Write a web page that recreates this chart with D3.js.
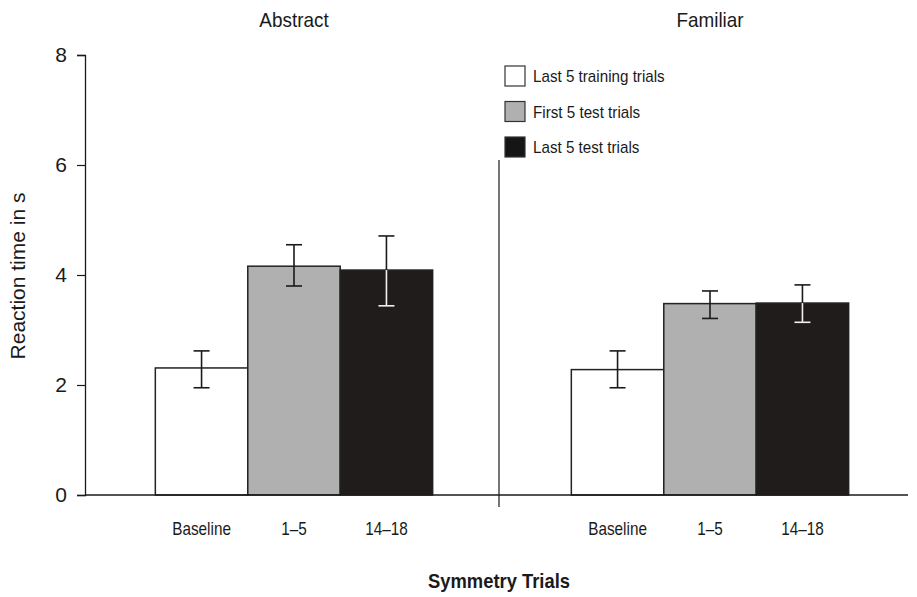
<!DOCTYPE html>
<html>
<head>
<meta charset="utf-8">
<script src="https://cdn.jsdelivr.net/npm/d3@7"></script>
<style>
  body { margin: 0; background: #fff; }
  text { font-family: "Liberation Sans", Arial, sans-serif; fill: #1a1a1a; }
</style>
</head>
<body>
<svg id="chart" width="917" height="597"></svg>
<script>
// data
var panels = ['Abstract', 'Familiar'];
var conditions = ['Baseline', '1–5', '14–18'];
var legendLabels = ['Last 5 training trials', 'First 5 test trials', 'Last 5 test trials'];
var means = [[2.31, 4.16, 4.09], [2.28, 3.48, 3.49]];
var errLow = [[1.95, 3.80, 3.44], [1.95, 3.21, 3.14]];
var errHigh = [[2.62, 4.55, 4.71], [2.62, 3.71, 3.82]];
var yTicks = [0, 2, 4, 6, 8];

var fills = ['#ffffff', '#b0b0b0', '#201c1c'];
var errColors = ['#1a1a1a', '#1a1a1a', '#f0f0f0'];

var svg = d3.select('#chart');

// narrow-looking text: squeeze a normal sans horizontally
function label(parent, x, y, str, size, sx, anchor) {
	return parent.append('text')
		.attr('transform', 'translate(' + x + ',' + y + ') scale(' + sx + ',1)')
		.attr('text-anchor', anchor || 'middle')
		.style('font-size', size + 'px')
		.text(str);
}

var y = d3.scaleLinear().domain([0, 8]).range([495, 55]);
var x0 = d3.scaleBand().domain(panels).range([86, 918]);
var x1 = d3.scaleBand().domain(conditions).range([0, x0.bandwidth()]).paddingInner(0).paddingOuter(0.75);

// y axis
var yAxis = svg.append('g').attr('transform', 'translate(85,0)')
	.call(d3.axisLeft(y).tickValues(yTicks).tickSize(8).tickPadding(10));
yAxis.select('.domain').attr('stroke', '#1a1a1a').attr('stroke-width', 1.3);
yAxis.selectAll('.tick line').attr('stroke', '#1a1a1a').attr('stroke-width', 1.2);
yAxis.selectAll('.tick text')
	.style('font-family', '"Liberation Sans", Arial, sans-serif')
	.style('font-size', '21px').attr('fill', '#1a1a1a');

svg.append('text')
	.attr('transform', 'translate(25,' + (y(4) + 1) + ') rotate(-90)')
	.attr('text-anchor', 'middle')
	.style('font-size', '21px')
	.text('Reaction time in s');

// panels
panels.forEach(function(p, pi) {
	var g = svg.append('g').attr('transform', 'translate(' + x0(p) + ',0)');

	label(g, x0.bandwidth() / 2, 27, p, 21, 0.9);

	g.selectAll('rect.bar').data(conditions).enter().append('rect')
		.attr('class', 'bar')
		.attr('x', function(d) { return x1(d); })
		.attr('y', function(d, i) { return y(means[pi][i]); })
		.attr('width', x1.bandwidth())
		.attr('height', function(d, i) { return y(0) - y(means[pi][i]); })
		.attr('fill', function(d, i) { return fills[i]; })
		.attr('stroke', '#222')
		.attr('stroke-width', 1.5);

	conditions.forEach(function(c, i) {
		var cx = x1(c) + x1.bandwidth() / 2;
		var top = y(errHigh[pi][i]), bot = y(errLow[pi][i]), mid = y(means[pi][i]);
		var e = g.append('g').attr('stroke-width', 1.6);
		// part above the bar top is dark, part inside follows the bar contrast
		e.append('line').attr('x1', cx).attr('x2', cx).attr('y1', top).attr('y2', mid).attr('stroke', '#1a1a1a');
		e.append('line').attr('x1', cx - 8).attr('x2', cx + 8).attr('y1', top).attr('y2', top).attr('stroke', '#1a1a1a');
		e.append('line').attr('x1', cx).attr('x2', cx).attr('y1', mid).attr('y2', bot).attr('stroke', errColors[i]);
		e.append('line').attr('x1', cx - 8).attr('x2', cx + 8).attr('y1', bot).attr('y2', bot).attr('stroke', errColors[i]);

		label(g, cx, 535, c, 18, 0.85);
	});
});

// baseline axis
svg.append('line')
	.attr('x1', 85).attr('x2', 908).attr('y1', y(0)).attr('y2', y(0))
	.attr('stroke', '#1a1a1a').attr('stroke-width', 1.5);

// divider between panels
var divX = x0('Familiar') - 3;
svg.append('line')
	.attr('x1', divX).attr('x2', divX).attr('y1', 160).attr('y2', 507)
	.attr('stroke', '#1a1a1a').attr('stroke-width', 1.2);

// x axis title
label(svg, divX, 588, 'Symmetry Trials', 20, 0.92).style('font-weight', 'bold');

// legend
var legend = svg.append('g').attr('transform', 'translate(505,66)');
var rows = legend.selectAll('g').data(legendLabels).enter().append('g')
	.attr('transform', function(d, i) { return 'translate(0,' + (i * 35.5) + ')'; });
rows.append('rect')
	.attr('width', 20).attr('height', 20)
	.attr('fill', function(d, i) { return i === 2 ? '#151515' : fills[i]; })
	.attr('stroke', '#333').attr('stroke-width', 1.2);
rows.each(function(d) {
	label(d3.select(this), 28, 16, d, 16, 0.95, 'start');
});
</script>
</body>
</html>
